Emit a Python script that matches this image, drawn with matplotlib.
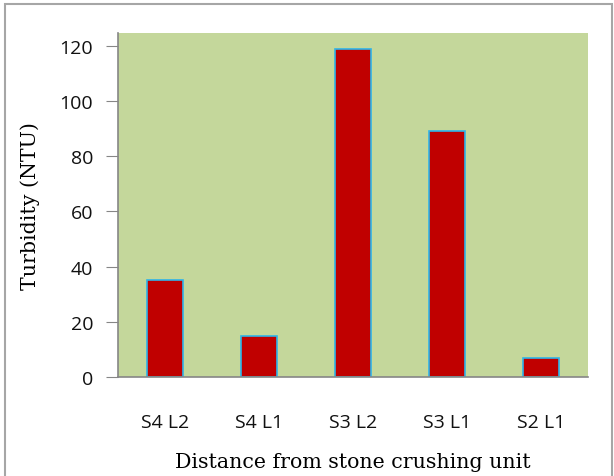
import matplotlib
matplotlib.use("Agg")
import matplotlib.pyplot as plt
from matplotlib.patches import Rectangle

categories = ["S4 L2", "S4 L1", "S3 L2", "S3 L1", "S2 L1"]
turbidity = [35, 15, 119, 89, 7]
yticks = [0, 20, 40, 60, 80, 100, 120]

fig = plt.figure(figsize=(6.14, 4.77), dpi=100)
fig.patch.set_facecolor("white")
fig.add_artist(Rectangle((5/614, -0.01), 607/614, 1 - 5/477 + 0.01,
                         transform=fig.transFigure, fill=False,
                         edgecolor="#A6A6A6", linewidth=1.5))

ax = fig.add_axes([118/614, 1 - 378/477, 470/614, 344/477])
ax.set_facecolor("#C4D79B")
x = range(len(categories))
ax.bar(x, turbidity, width=0.39, color="#C00000", edgecolor="#2FB4E8", linewidth=1.2)
ax.set_xlim(-0.5, len(categories) - 0.5)
ax.set_ylim(0, 124.7)
ax.set_yticks(yticks)
ax.set_xticks(list(x))
ax.set_xticklabels(categories)

for s in ["top", "right"]:
    ax.spines[s].set_visible(False)
for s in ["left", "bottom"]:
    ax.spines[s].set_color("#868686")
    ax.spines[s].set_linewidth(1.2)

ax.tick_params(axis="y", direction="out", length=9, color="#868686", pad=9,
               labelsize=14, labelcolor="#111111")
ax.tick_params(axis="x", length=0, pad=26, labelsize=14, labelcolor="#111111")
for lab in ax.get_yticklabels() + ax.get_xticklabels():
    lab.set_fontfamily("Open Sans")

ax.set_xlabel("Distance from stone crushing unit", fontfamily="DejaVu Serif",
              fontsize=14.8, labelpad=15, color="black")
ax.set_ylabel("Turbidity (NTU)", fontfamily="DejaVu Serif",
              fontsize=14.8, labelpad=14, color="black")

fig.savefig("out.png", dpi=100)
